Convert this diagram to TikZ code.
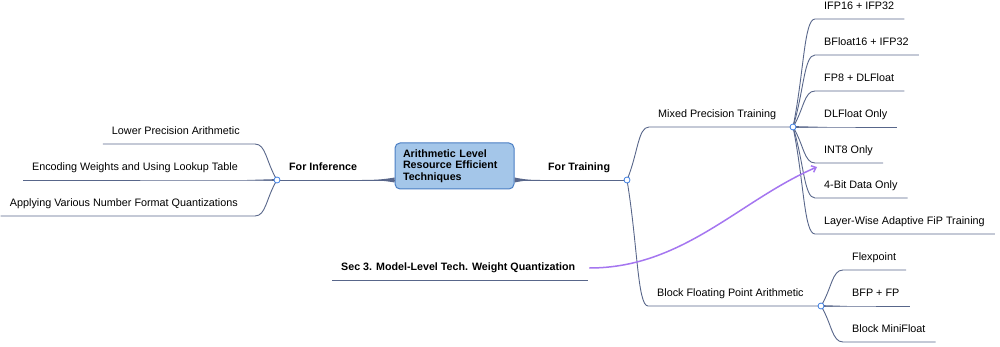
\documentclass[tikz,border=0pt]{standalone}
\usepackage{fontspec}
\setmainfont{Liberation Sans}
\usetikzlibrary{arrows.meta, calc, positioning}
\definecolor{branchcolor}{RGB}{88,102,138}
\definecolor{rootfill}{RGB}{164,198,233}
\definecolor{rootdraw}{RGB}{74,126,196}
\definecolor{knotcolor}{RGB}{60,125,225}
\definecolor{linkcolor}{RGB}{165,118,240}

\begin{document}
\begin{tikzpicture}[
    x=1pt, y=-1pt,
    topic/.style={font=\fontsize{10.8}{12}\selectfont, text height=7.5pt, text depth=2.5pt, inner xsep=9pt, inner ysep=6.8pt},
    main/.style={topic, font=\fontsize{10.7}{12}\selectfont\bfseries},
    root/.style={draw=rootdraw, fill=rootfill, line width=1pt, rounded corners=5pt, align=left, text width=103pt, inner xsep=8pt, minimum height=46pt, font=\fontsize{10.7}{11.3}\selectfont\bfseries},
    uline/.style={draw=branchcolor, line width=0.9pt},
    branch/.style={draw=branchcolor, line width=0.9pt, to path={.. controls ($(\tikztostart)!.5!(\tikztotarget)$) and ($(\tikztotarget)!.5!(\tikztotarget -| \tikztostart)$) .. (\tikztotarget)}},
    knot/.style={circle, draw=knotcolor, fill=white, line width=0.8pt, inner sep=0pt, minimum size=6pt},
    link/.style={draw=linkcolor, line width=1.5pt, -{Straight Barb[length=4pt, width=7pt]}},
]
    \useasboundingbox (0,0) rectangle (1000,347);

    % Root and main branches
    \node[root] (root) at (454.5,166) {Arithmetic Level\\Resource Efficient\\Techniques};
    \coordinate (ki) at (277,180);
    \coordinate (kt) at (627,180);
    \coordinate (km) at (793,127);
    \coordinate (kb) at (821,306);
    \node[main, anchor=south west] (inf) at (280,180) {For Inference};
    \node[main, anchor=south west] (train) at (539,180) {For Training};
    \draw[uline] (ki) -- (root.west |- ki);
    \draw[uline] (root.east |- kt) -- (kt);
    \fill[branchcolor] (root.west |- 0,177.5) .. controls (384,179.4) and (375,180) .. (362,180) .. controls (375,180) and (384,180.6) .. (root.west |- 0,182.5) -- cycle;
    \fill[branchcolor] (root.east |- 0,177.5) .. controls (524,179.4) and (530,180) .. (540,180) .. controls (530,180) and (524,180.6) .. (root.east |- 0,182.5) -- cycle;

    % For Inference
    \node[topic, anchor=south east] (lpa) at (249,144) {Lower Precision Arithmetic};
    \node[topic, anchor=south east] (ewl) at (247,180) {Encoding Weights and Using Lookup Table};
    \node[topic, anchor=south east] (avq) at (247,216) {Applying Various Number Format Quantizations};
    \draw[branch] (ki) to ([xshift=6pt]lpa.south east) -- (lpa.south west);
    \draw[branch] (ki) to ([xshift=8pt]ewl.south east) -- (ewl.south west);
    \draw[branch] (ki) to ([xshift=8pt]avq.south east) -- (avq.south west);

    % For Training
    \node[topic, anchor=south west] (mpt) at (649,127) {Mixed Precision Training};
    \node[topic, anchor=south west] (bfa) at (648,306) {Block Floating Point Arithmetic};
    \draw[branch] (kt) to (mpt.south west) -- (km);
    \draw[branch] (kt) to (bfa.south west) -- (kb);

    % Mixed precision
    \node[topic, anchor=south west] (ifp) at (815,19) {IFP16 + IFP32};
    \node[topic, anchor=south west] (bf16) at (815,55) {BFloat16 + IFP32};
    \node[topic, anchor=south west] (fp8) at (815,91) {FP8 + DLFloat};
    \node[topic, anchor=south west] (dlf) at (815,127) {DLFloat Only};
    \node[topic, anchor=south west] (int8) at (815,163) {INT8 Only};
    \node[topic, anchor=south west] (bit4) at (815,198) {4-Bit Data Only};
    \node[topic, anchor=south west] (lwa) at (815,234) {Layer-Wise Adaptive FiP Training};
    \foreach \n in {ifp, bf16, fp8, dlf, int8, bit4, lwa}
        \draw[branch] (km) to (\n.south west) -- ([xshift=1pt]\n.south east);

    % Block floating point
    \node[topic, anchor=south west] (flx) at (843,270) {Flexpoint};
    \node[topic, anchor=south west] (bfp) at (843,306) {BFP + FP};
    \node[topic, anchor=south west] (bmf) at (843,342) {Block MiniFloat};
    \foreach \n in {flx, bfp, bmf}
        \draw[branch] (kb) to (\n.south west) -- ([xshift=1pt]\n.south east);

    % tapers at the knots
    \fill[branchcolor] (ki) ++(0,-0.9) -- ++(-30,0.9) -- ++(30,0.9) -- cycle;
    \fill[branchcolor] (km) ++(0,-0.9) -- ++(34,0.9) -- ++(-34,0.9) -- cycle;
    \fill[branchcolor] (kb) ++(0,-0.9) -- ++(26,0.9) -- ++(-26,0.9) -- cycle;

    % Cross reference
    \node[main, anchor=south west] (sec) at (332,280) {Sec 3. Model-Level Tech. Weight Quantization};
    \draw[uline] (sec.south west) -- ([xshift=4pt]sec.south east);
    \draw[link] ([xshift=5pt]sec.east) .. controls +(94,0) and +(-77,33) .. ([shift={(2,4)}]int8.south west);

    % knots
    \node[knot] (kiDot) at (ki) {};
    \node[knot] (ktDot) at (kt) {};
    \node[knot] (kmDot) at (km) {};
    \node[knot] (kbDot) at (kb) {};
\end{tikzpicture}
\end{document}
